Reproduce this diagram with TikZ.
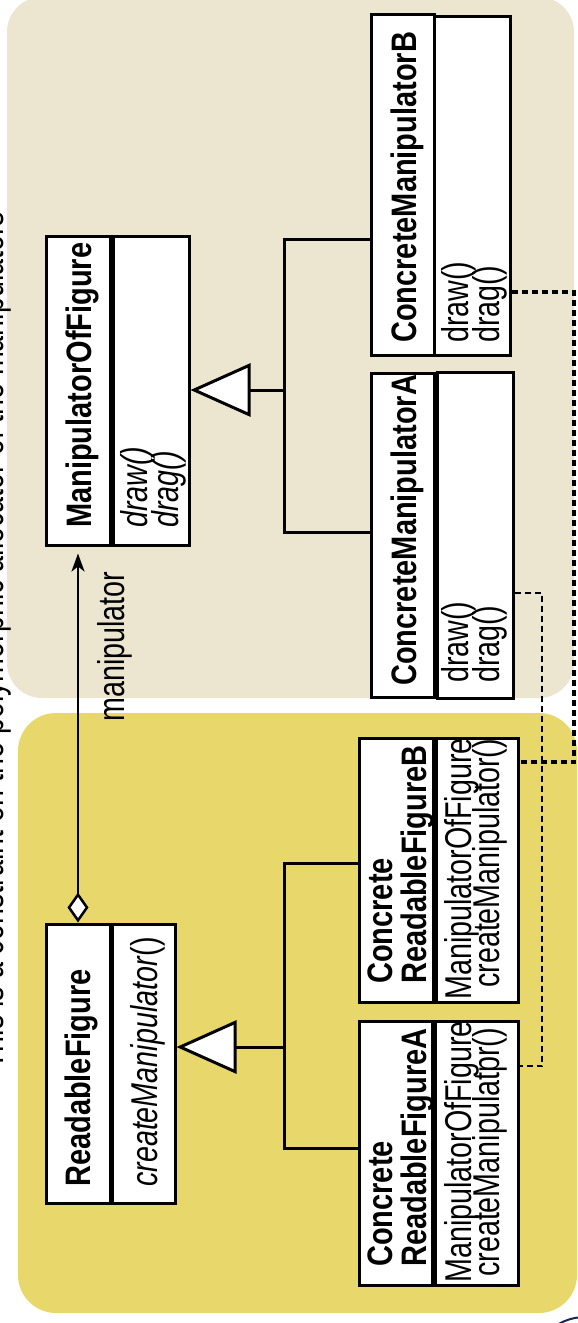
\documentclass[tikz,border=0pt]{standalone}
\usepackage{fontspec}
\setmainfont{Liberation Sans}
\usepackage{graphicx}
\usetikzlibrary{arrows.meta,calc}
\definecolor{beige}{RGB}{236,229,207}
\definecolor{ylw}{RGB}{232,215,106}
\definecolor{navy}{RGB}{20,40,90}
\newcommand\vst[1]{\scalebox{1}[1.22]{#1}}
\newcommand\rst[1]{\scalebox{1}[1.3]{#1}}
\begin{document}
\begin{tikzpicture}[x=1pt,y=-1pt,
  box/.style={draw=black, fill=white, line width=3pt, inner sep=0pt},
  txt/.style={rotate=90, anchor=base west, inner sep=0pt, font=\fontsize{28.7}{30}\selectfont},
  btxt/.style={txt, font=\fontsize{29}{30}\selectfont\bfseries},
  tree/.style={line width=3pt},
  dep/.style={line width=2.8pt, dash pattern=on 6pt off 4pt},
  gentip/.style={-{Triangle[fill=white, length=60pt, width=53pt, line width=3pt]}}]
\useasboundingbox (0,0) rectangle (578,1323);
\clip (0,0) rectangle (578,1323);
% panels
\fill[beige, rounded corners=35pt] (7,-3) rectangle (574,698);
\fill[ylw, rounded corners=38pt] (18,713) rectangle (577,1313);
\draw[navy, line width=2pt] (585,1370) circle (53);
% note
\node[txt] (note) at (4,1070) {\rst{This is a constraint on the polymorphic allocator of the manipulators}};
% boxes
\node[box, minimum width=64pt, minimum height=309pt] (mofName) at (78,390.5) {};
\node[box, minimum width=76pt, minimum height=309pt] (mofMeth) at (151,390.5) {};
\node[box, minimum width=63pt, minimum height=341pt] (cmbName) at (402.5,184.5) {};
\node[box, minimum width=76pt, minimum height=339pt] (cmbMeth) at (472,185.5) {};
\node[box, minimum width=63pt, minimum height=324pt] (cmaName) at (402.5,535) {};
\node[box, minimum width=76pt, minimum height=326pt] (cmaMeth) at (475,535) {};
\node[box, minimum width=64pt, minimum height=279pt] (rfName) at (78,1063.5) {};
\node[box, minimum width=63pt, minimum height=279pt] (rfMeth) at (143.5,1063.5) {};
\node[box, minimum width=74pt, minimum height=264pt] (crfbName) at (396,870) {};
\node[box, minimum width=82pt, minimum height=264pt] (crfbMeth) at (477,870) {};
\node[box, minimum width=73pt, minimum height=264pt] (crfaName) at (395.5,1153) {};
\node[box, minimum width=83pt, minimum height=264pt] (crfaMeth) at (476.5,1153) {};
% generalization trees
\coordinate (mofT) at (284,239);
\coordinate (mofB) at (284,532);
\coordinate (mofJ) at (284,390);
\draw[tree] (cmbName.west |- mofT) -- (mofT) -- (mofB) -- (cmaName.west |- mofB);
\draw[tree, gentip] (mofJ) -- (mofMeth.east |- mofJ);
\coordinate (rfT) at (284,863);
\coordinate (rfB) at (284,1148);
\coordinate (rfJ) at (284,1047);
\draw[tree] (crfbName.west |- rfT) -- (rfT) -- (rfB) -- (crfaName.west |- rfB);
\draw[tree, gentip] (rfJ) -- (rfMeth.east |- rfJ);
% association
\draw[line width=2.5pt, {Diamond[fill=white, length=30pt, width=21pt]}-{Stealth[length=18pt, width=13pt, inset=5pt]}, shorten >=7pt] (rfName.north) -- (mofName.south);
\node[txt] (assocLabel) at (124,722) {\rst{manipulator}};
% dependencies
\coordinate (d1a) at (542,593);
\coordinate (d1b) at (542,1066);
\draw[dep] (cmaMeth.east |- d1a) -- (d1a) -- (d1b) -- (crfaMeth.east |- d1b);
\coordinate (d2a) at (574,292);
\coordinate (d2b) at (574,762);
\draw[dep, line width=3.3pt] (cmbMeth.east |- d2a) -- (d2a) -- (d2b) -- (crfbMeth.east |- d2b);
% texts
\node[btxt] (mofNameT) at (91,528) {\vst{ManipulatorOfFigure}};
\node[txt] (mofM1) at (147,528) {\rst{\itshape draw()}};
\node[txt] (mofM2) at (178,528) {\rst{\itshape drag()}};
\node[btxt] (cmbNameT) at (416,343) {\vst{ConcreteManipulatorB}};
\node[txt] (cmbM1) at (468,343) {\rst{draw()}};
\node[txt] (cmbM2) at (499,343) {\rst{drag()}};
\node[btxt] (cmaNameT) at (416,686) {\vst{ConcreteManipulatorA}};
\node[txt] (cmaM1) at (468,683) {\rst{draw()}};
\node[txt] (cmaM2) at (499,683) {\rst{drag()}};
\node[btxt] (rfNameT) at (90,1187) {\vst{ReadableFigure}};
\node[txt] (rfMT) at (157,1187) {\rst{\textit{createManipulator}()}};
\node[btxt] (crfbN1) at (392,984) {\vst{Concrete}};
\node[btxt] (crfbN2) at (426,984) {\vst{ReadableFigureB}};
\node[txt] (crfbM1) at (471,1000) {\rst{ManipulatorOfFigure}};
\node[txt] (crfbM2) at (499,988) {\rst{createManipulator()}};
\node[btxt] (crfaN1) at (392,1267) {\vst{Concrete}};
\node[btxt] (crfaN2) at (426,1267) {\vst{ReadableFigureA}};
\node[txt] (crfaM1) at (471,1283) {\rst{ManipulatorOfFigure}};
\node[txt] (crfaM2) at (499,1277) {\rst{createManipulatpr()}};
\end{tikzpicture}
\end{document}
